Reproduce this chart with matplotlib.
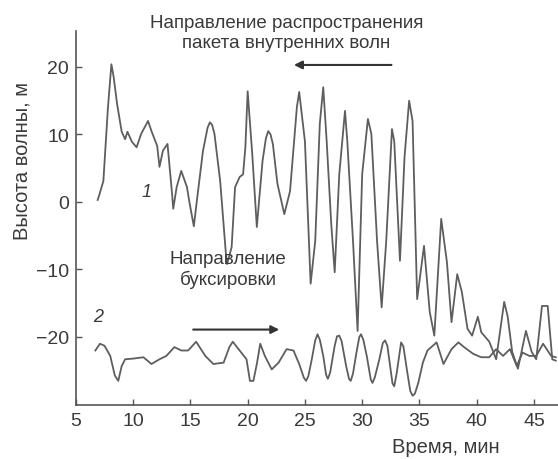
import matplotlib
matplotlib.use("Agg")
import matplotlib.pyplot as plt

plt.rcParams['font.family'] = ['Liberation Sans', 'DejaVu Sans']

# Curve 1 (wave height, m) vs time (min)
t1 = [6.9, 7.0, 7.4, 7.8, 8.1, 8.3, 8.6, 9.0, 9.3, 9.5, 9.9, 10.3, 10.7, 11.3, 11.6, 12.1, 12.3, 12.6, 13.0,
      13.4, 13.5, 13.8, 14.2, 14.7, 14.9, 15.3, 15.6, 16.1, 16.5, 16.7, 16.9, 17.1, 17.6, 18.1, 18.2, 18.6,
      18.9, 19.3, 19.6, 19.8, 20.0, 20.4, 20.8, 21.3, 21.6, 21.8, 22.0, 22.2, 22.6, 23.2, 23.7, 24.3, 24.5,
      25.0, 25.5, 25.9, 26.3, 26.6, 26.9, 27.3, 27.6, 28.0, 28.5, 28.7, 29.2, 29.6, 30.0, 30.5,
      30.8, 31.3, 31.7, 32.1, 32.6, 32.8, 33.3, 33.7, 34.1, 34.4, 34.8, 35.4, 35.9, 36.3, 36.9,
      37.4, 37.8, 38.3, 38.7, 39.2, 39.6, 40.1, 40.4, 41.1, 41.7, 42.4, 42.7, 43.1, 43.6, 44.3,
      44.8, 45.2, 45.7, 46.2, 46.6, 46.9]
h1 = [0.3, 0.8, 3.1, 14.0, 20.4, 18.5, 14.5, 10.4, 9.3, 10.4, 8.9, 8.1, 10.1, 12.0, 10.5, 8.3, 5.2, 7.6, 8.6,
      1.2, -1.0, 2.2, 4.6, 2.2, 0.1, -3.6, 0.7, 7.6, 11.0, 11.8, 11.4, 10.1, 3.1, -7.7, -9.2, -6.7,
      2.2, 3.7, 4.1, 8.1, 16.4, 7.1, -3.7, 6.1, 9.5, 10.5, 10.0, 8.6, 2.7, -1.8, 1.6, 14.1, 16.3,
      9.0, -12.1, -5.8, 11.6, 17.0, 9.0, -3.3, -10.4, 4.1, 13.5, 9.0, -5.8, -19.1, 4.1, 12.3,
      10.1, -5.8, -15.6, -5.8, 10.8, 9.0, -8.7, 6.7, 15.0, 12.0, -14.4, -6.5, -16.3, -19.8, -2.5,
      -8.9, -17.8, -10.7, -13.3, -18.8, -19.8, -17.0, -19.3, -20.7, -23.3, -14.8, -16.9, -22.2, -24.7, -19.1,
      -22.2, -23.3, -15.4, -15.4, -23.3, -23.5]

# Curve 2
t2 = [6.7, 7.1, 7.5, 8.0, 8.4, 8.7, 9.0, 9.3, 10.0, 10.9, 11.6, 12.3, 12.9, 13.6, 14.2, 14.8,
      15.5, 16.3, 17.0, 17.9, 18.4, 18.7, 19.3, 19.9, 20.2, 20.5, 20.8, 21.1, 21.5, 22.1, 22.7, 23.4, 24.0,
      24.5, 24.9, 25.1, 25.3, 25.6, 25.9, 26.1, 26.3, 26.6, 26.85, 27.0, 27.2, 27.6, 27.8, 28.0, 28.2,
      28.6, 28.85, 29.0, 29.2, 29.5, 29.75, 29.9, 30.1, 30.4, 30.75, 30.9, 31.1, 31.5, 31.8, 32.0, 32.2,
      32.4, 32.65, 32.8, 33.0, 33.4, 33.6, 33.9, 34.2, 34.4, 34.6, 34.9, 35.3, 35.7, 36.5, 37.1, 37.8, 38.4,
      38.9, 39.7, 40.4, 41.1, 41.7, 42.3, 42.9, 43.5, 44.0, 44.6, 45.2, 45.8, 46.5, 46.9]
h2 = [-22.0, -21.0, -21.3, -22.8, -25.7, -26.5, -24.3, -23.3, -23.2, -23.0, -24.0, -23.3, -22.8, -21.5, -22.0, -22.0,
      -20.7, -22.8, -24.0, -23.8, -21.5, -20.7, -22.0, -23.3, -26.5, -26.5, -24.0, -21.0, -22.8, -24.8, -23.8, -21.8, -22.0,
      -24.0, -26.0, -26.5, -25.8, -23.3, -20.5, -19.6, -20.4, -22.8, -25.6, -26.2, -25.3, -21.3, -19.9, -19.8, -20.6,
      -24.3, -26.2, -26.5, -25.4, -22.3, -20.0, -19.6, -20.4, -22.8, -26.3, -26.8, -26.0, -23.3, -20.9, -20.5, -21.3,
      -23.8, -26.9, -27.3, -25.5, -20.8, -21.4, -24.8, -28.0, -28.7, -28.4, -26.8, -23.8, -22.0, -20.8, -24.0, -21.8, -20.8,
      -21.5, -22.5, -23.0, -23.0, -21.8, -22.8, -21.8, -24.3, -22.3, -22.8, -22.8, -21.0, -22.8, -23.0]

xticks = [5, 10, 15, 20, 25, 30, 35, 40, 45]
yticks = [-20, -10, 0, 10, 20]

line_color = '#5e5e5e'
text_color = '#3a3a3a'

fig = plt.figure(figsize=(5.58, 4.60), dpi=100)
ax = fig.add_axes([0.136, 0.117, 0.864, 0.813])

ax.plot(t1, h1, color=line_color, lw=1.3)
ax.plot(t2, h2, color=line_color, lw=1.3)

ax.set_xlim(5, 47.1)
ax.set_ylim(-30.1, 25.3)
ax.set_xticks(xticks)
ax.set_yticks(yticks)

for s in ['top', 'right']:
    ax.spines[s].set_visible(False)
for s in ['left', 'bottom']:
    ax.spines[s].set_color('#555555')
    ax.spines[s].set_linewidth(1.2)
ax.tick_params(direction='in', length=4, width=1, colors='#555555',
               labelcolor=text_color, labelsize=14, pad=5)

ax.set_xlabel('Время, мин', fontsize=14.5, color=text_color)
ax.xaxis.set_label_coords(0.768, -0.085)
ax.set_ylabel('Высота волны, м', fontsize=14.5, color=text_color)
ax.yaxis.set_label_coords(-0.092, 0.655)

ax.text(23.4, 25.1, 'Направление распространения\nпакета внутренних волн',
        ha='center', va='center', fontsize=13.5, color=text_color, linespacing=1.2)
ax.annotate('', xy=(23.8, 20.3), xytext=(32.8, 20.3),
            arrowprops=dict(arrowstyle='-|>', color='#333333', lw=1.5,
                            mutation_scale=12))

ax.text(18.3, -9.9, 'Направление\nбуксировки',
        ha='center', va='center', fontsize=13.5, color=text_color, linespacing=1.2)
ax.annotate('', xy=(23.0, -18.9), xytext=(15.0, -18.9),
            arrowprops=dict(arrowstyle='-|>', color='#333333', lw=1.5,
                            mutation_scale=12))

ax.text(11.2, 1.6, '1', fontsize=13, style='italic', color=text_color,
        ha='center', va='center')
ax.text(6.9, -17.0, '2', fontsize=13, style='italic', color=text_color,
        ha='center', va='center')

fig.savefig('out.png', dpi=100)
